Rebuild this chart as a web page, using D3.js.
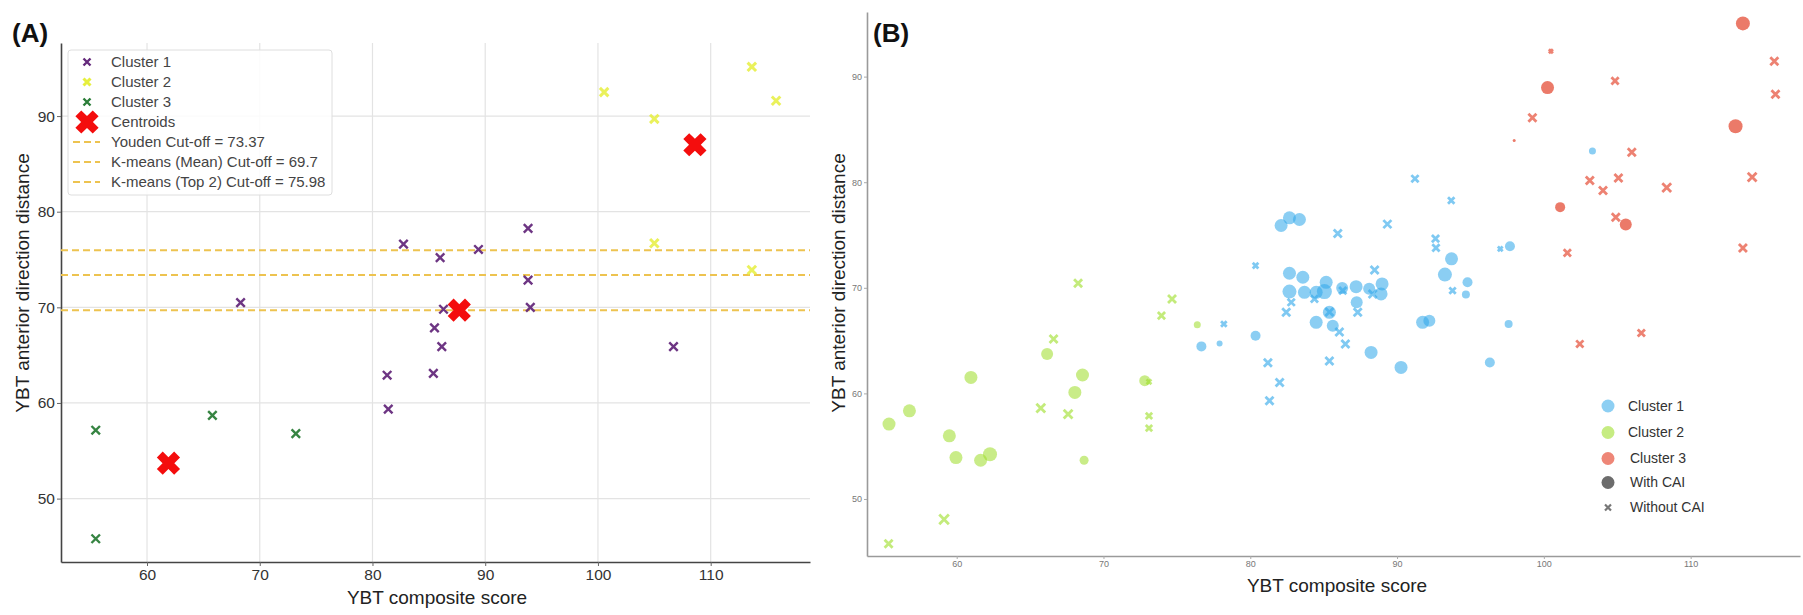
<!DOCTYPE html>
<html><head><meta charset="utf-8">
<script src="https://cdn.jsdelivr.net/npm/d3@7"></script>
<style>body{margin:0;background:#fff}svg{display:block}</style>
</head><body><svg id="c" width="1803" height="615"></svg>
<script>
// ---------- Panel A data ----------
const aXTicks = [60, 70, 80, 90, 100, 110];
const aYTicks = [50, 60, 70, 80, 90];
const aCluster1X = [82.75, 86.0, 68.3, 89.4, 93.8, 93.8, 94.0, 86.3, 85.5, 86.15, 85.4, 106.7, 81.3, 81.4];
const aCluster1Y = [76.6, 75.2, 70.5, 76.05, 78.25, 72.85, 70.0, 69.8, 67.85, 65.9, 63.1, 65.9, 62.9, 59.35];
const aCluster2X = [100.55, 105.0, 113.65, 115.8, 105.0, 113.65];
const aCluster2Y = [92.5, 89.7, 95.15, 91.6, 76.7, 73.9];
const aCluster3X = [55.45, 65.8, 73.2, 55.45];
const aCluster3Y = [57.15, 58.7, 56.8, 45.8];
const centroidX = [61.9, 87.7, 108.6];
const centroidY = [53.7, 69.7, 87.0];
const cutoffNames = ["Youden Cut-off = 73.37", "K-means (Mean) Cut-off = 69.7", "K-means (Top 2) Cut-off = 75.98"];
const cutoffValues = [73.37, 69.7, 75.98];
const aLegendNames = ["Cluster 1", "Cluster 2", "Cluster 3", "Centroids"];

// ---------- Panel B data: [x, y, marker-size value] ----------
const bXTicks = [60, 70, 80, 90, 100, 110];
const bYTicks = [50, 60, 70, 80, 90];
const bC1With = [[76.67,64.45,5],[77.91,64.73,3],[80.36,65.46,5],[82.1,75.9,6.5],[82.67,76.63,6.5],[83.35,76.47,6.5],[82.67,71.38,6.5],[83.58,71.0,6.5],[82.67,69.64,7],[83.69,69.57,6.5],[84.49,69.57,6.5],[85.05,69.64,7.5],[85.17,70.52,6.5],[86.26,69.99,6],[87.21,70.11,6.5],[88.1,69.9,6],[88.98,70.37,6.5],[88.91,69.42,6.5],[87.25,68.63,6],[85.39,67.68,6.5],[84.49,66.73,6.5],[85.62,66.41,6],[88.23,63.88,6.5],[90.27,62.46,6.5],[91.74,66.73,6.5],[92.2,66.89,6],[93.26,71.25,7],[93.71,72.74,6.5],[94.8,70.52,5],[94.69,69.36,4],[97.69,73.94,5],[97.6,66.57,4],[96.32,62.93,5],[103.31,82.95,3.5]];
const bC1Without = [[78.2,66.57,3.5],[80.36,72.1,3.5],[81.2,62.9,5],[82.0,61.03,5],[81.31,59.3,5],[82.45,67.68,5],[82.79,68.63,4.5],[84.37,68.95,4.5],[85.39,63.06,5],[85.39,67.7,5],[85.96,75.14,5],[86.3,69.73,4.5],[86.07,65.82,5],[86.48,64.68,5],[87.32,67.68,5],[88.34,69.42,5],[88.47,71.69,5],[89.34,76.03,5],[91.22,80.33,4.5],[92.62,74.66,4.5],[92.65,73.78,4.5],[93.69,78.27,4],[93.78,69.73,4],[97.03,73.69,3]];
const bC2With = [[55.39,57.09,6.5],[56.78,58.35,6.5],[59.5,55.98,6.5],[59.95,53.92,6.5],[60.97,61.51,6.5],[61.63,53.67,6.5],[62.27,54.24,7],[66.16,63.73,6],[68.05,60.09,6.5],[68.57,61.74,6.5],[68.68,53.67,4.5],[72.81,61.2,5.5],[76.39,66.51,3.5]];
const bC2Without = [[55.36,45.76,5],[59.14,48.07,6],[65.73,58.6,5.5],[66.6,65.15,5],[67.59,58.04,5.5],[68.27,70.43,5],[73.1,61.1,3],[73.1,57.87,4],[73.1,56.71,4],[73.95,67.36,4.5],[74.67,68.95,5]];
const bC3With = [[113.56,95.04,7],[113.06,85.3,7],[100.25,88.96,6.5],[97.98,83.94,1.5],[101.11,77.64,5],[105.58,76.0,6]];
const bC3Without = [[115.7,91.46,5],[115.78,88.33,5],[100.48,92.4,2.5],[104.85,89.6,4.5],[99.22,86.1,5],[105.99,82.83,5],[103.13,80.17,5],[104.03,79.22,5],[105.08,80.39,5],[108.37,79.48,5.5],[114.19,80.49,5.5],[104.9,76.69,5],[101.6,73.31,4.5],[113.56,73.78,5],[106.64,65.72,4.5],[102.45,64.68,4.5]];
const bLegendNames = ["Cluster 1", "Cluster 2", "Cluster 3", "With CAI", "Without CAI"];

// ---------- drawing ----------
const svg = d3.select("#c");
const FONT = "'Liberation Sans', Arial, Helvetica, sans-serif";

const xSym = {draw(ctx, size){ const r = Math.sqrt(size)/2; ctx.moveTo(-r,-r); ctx.lineTo(r,r); ctx.moveTo(r,-r); ctx.lineTo(-r,r);} };
const bigX = {draw(ctx, size){
  const L = Math.sqrt(size)/2, T = L*0.34, c = Math.SQRT1_2;
  const pts = [[-T,L],[T,L],[T,T],[L,T],[L,-T],[T,-T],[T,-L],[-T,-L],[-T,-T],[-L,-T],[-L,T],[-T,T]]
    .map(([x,y]) => [(x - y)*c, (x + y)*c]);
  ctx.moveTo(pts[0][0], pts[0][1]); pts.slice(1).forEach(p => ctx.lineTo(p[0], p[1])); ctx.closePath();
}};

// ===== Panel A =====
const A = {l:61, r:810, t:43, b:562};
const ax = d3.scaleLinear().domain([52.37, 118.81]).range([A.l, A.r]);
const ay = d3.scaleLinear().domain([43.37, 97.64]).range([A.b, A.t]);
const gA = svg.append("g");
gA.selectAll("line.gx").data(aXTicks).join("line").attr("x1", d=>ax(d)).attr("x2", d=>ax(d))
  .attr("y1", A.t).attr("y2", A.b).attr("stroke", "#e3e3e3").attr("stroke-width", 1.2);
gA.selectAll("line.gy").data(aYTicks).join("line").attr("y1", d=>ay(d)).attr("y2", d=>ay(d))
  .attr("x1", A.l).attr("x2", A.r).attr("stroke", "#e3e3e3").attr("stroke-width", 1.2);

const axA = gA.append("g").attr("transform", `translate(0,${A.b})`)
  .call(d3.axisBottom(ax).tickValues(aXTicks).tickSize(4).tickPadding(3).tickSizeOuter(0));
const ayA = gA.append("g").attr("transform", `translate(${A.l},0)`)
  .call(d3.axisLeft(ay).tickValues(aYTicks).tickSize(4).tickPadding(2).tickSizeOuter(0));
[axA, ayA].forEach(g => {
  g.select(".domain").attr("stroke", "#444").attr("stroke-width", 1.6);
  g.selectAll(".tick line").attr("stroke", "#666");
  g.selectAll("text").attr("font-family", FONT).attr("font-size", 15.5).attr("fill", "#333");
});

const cutColor = "#edc350";
gA.selectAll("line.cut").data(cutoffValues).join("line")
  .attr("x1", A.l).attr("x2", A.r).attr("y1", d=>ay(d)).attr("y2", d=>ay(d))
  .attr("stroke", cutColor).attr("stroke-width", 2).attr("stroke-dasharray", "7,4");

const aColors = ["#652a7c", "#e6ef3e", "#2b7d38"];
const aSets = [[aCluster1X, aCluster1Y], [aCluster2X, aCluster2Y], [aCluster3X, aCluster3Y]];
aSets.forEach(([xs, ys], i) => {
  gA.append("g").selectAll("path").data(xs.map((x, j) => [x, ys[j]])).join("path")
    .attr("transform", d => `translate(${ax(d[0])},${ay(d[1])})`)
    .attr("d", d3.symbol().type(xSym).size(72))
    .attr("fill", "none").attr("stroke", aColors[i]).attr("stroke-width", i === 1 ? 3 : 2.4)
    .attr("stroke-opacity", i === 1 ? 0.85 : 0.95);
});
gA.append("g").selectAll("path").data(centroidX.map((x, j) => [x, centroidY[j]])).join("path")
  .attr("transform", d => `translate(${ax(d[0])},${ay(d[1])})`)
  .attr("d", d3.symbol().type(bigX).size(600)).attr("fill", "#f40d0d");

// legend A
const lg = gA.append("g");
lg.append("rect").attr("x", 68).attr("y", 50).attr("width", 264).attr("height", 145).attr("rx", 3)
  .attr("fill", "#fff").attr("fill-opacity", 0.85).attr("stroke", "#dedede");
const rowY = i => 62 + i*20;
aLegendNames.forEach((n, i) => {
  const g = lg.append("g").attr("transform", `translate(87,${rowY(i)})`);
  if (i < 3) g.append("path").attr("d", d3.symbol().type(xSym).size(49)).attr("fill", "none")
    .attr("stroke", aColors[i]).attr("stroke-width", i === 1 ? 3 : 2.4);
  else g.append("path").attr("d", d3.symbol().type(bigX).size(600)).attr("fill", "#f40d0d");
  lg.append("text").attr("x", 111).attr("y", rowY(i)).attr("dy", "0.35em").text(n)
    .attr("font-family", FONT).attr("font-size", 15).attr("fill", "#444");
});
cutoffNames.forEach((n, k) => {
  const i = k + 4;
  lg.append("line").attr("x1", 73).attr("x2", 100).attr("y1", rowY(i)).attr("y2", rowY(i))
    .attr("stroke", cutColor).attr("stroke-width", 2).attr("stroke-dasharray", "7,4");
  lg.append("text").attr("x", 111).attr("y", rowY(i)).attr("dy", "0.35em").text(n)
    .attr("font-family", FONT).attr("font-size", 15).attr("fill", "#444");
});

gA.append("text").attr("x", 437).attr("y", 604).attr("text-anchor", "middle").text("YBT composite score")
  .attr("font-family", FONT).attr("font-size", 19).attr("fill", "#222");
gA.append("text").attr("transform", "translate(29,283) rotate(-90)").attr("text-anchor", "middle")
  .text("YBT anterior direction distance").attr("font-family", FONT).attr("font-size", 19).attr("fill", "#222");
gA.append("text").attr("x", 12).attr("y", 42).text("(A)").attr("font-family", FONT)
  .attr("font-size", 26).attr("font-weight", "bold").attr("fill", "#111");

// ===== Panel B =====
const B = {l:867, r:1800, t:12, b:556};
const bx = d3.scaleLinear().domain([53.89, 117.45]).range([B.l, B.r]);
const by = d3.scaleLinear().domain([44.6, 96.12]).range([B.b, B.t]);
const sz = d3.scaleLinear().domain([0, 8]).range([0, 8]);
const gB = svg.append("g");
const axB = gB.append("g").attr("transform", `translate(0,${B.b})`)
  .call(d3.axisBottom(bx).tickValues(bXTicks).tickSize(3).tickPadding(2).tickSizeOuter(0));
const ayB = gB.append("g").attr("transform", `translate(${B.l},0)`)
  .call(d3.axisLeft(by).tickValues(bYTicks).tickSize(3).tickPadding(2).tickSizeOuter(0));
[axB, ayB].forEach(g => {
  g.select(".domain").attr("stroke", "#9a9a9a").attr("stroke-width", 1.6);
  g.selectAll(".tick line").attr("stroke", "#aaa");
  g.selectAll("text").attr("font-family", FONT).attr("font-size", 9).attr("fill", "#777");
});

const bColors = ["#30a8ea", "#9ede2a", "#e8634f"];
const withSets = [bC1With, bC2With, bC3With];
const withoutSets = [bC1Without, bC2Without, bC3Without];
withSets.forEach((arr, i) => {
  gB.append("g").selectAll("circle").data(arr).join("circle")
    .attr("cx", d => bx(d[0])).attr("cy", d => by(d[1])).attr("r", d => sz(d[2]))
    .attr("fill", bColors[i]).attr("fill-opacity", i === 2 ? 0.85 : 0.56);
});
withoutSets.forEach((arr, i) => {
  gB.append("g").selectAll("path").data(arr).join("path")
    .attr("transform", d => `translate(${bx(d[0])},${by(d[1])})`)
    .attr("d", d => d3.symbol().type(xSym).size(Math.pow(2*sz(d[2])*0.8, 2))())
    .attr("fill", "none").attr("stroke", bColors[i]).attr("stroke-width", 2.8)
    .attr("stroke-opacity", i === 2 ? 0.8 : 0.62);
});

// legend B
const bRows = [406, 432.5, 458.5, 482.5, 507.5];
const bLegColors = ["#8dcff3", "#c6ec82", "#ee8677", "#6c6c6c"];
bLegendNames.forEach((n, i) => {
  if (i < 4) gB.append("circle").attr("cx", 1608).attr("cy", bRows[i]).attr("r", 6.5).attr("fill", bLegColors[i]);
  else gB.append("path").attr("transform", `translate(1608,${bRows[i]})`)
    .attr("d", d3.symbol().type(xSym).size(36)).attr("fill", "none").attr("stroke", "#777").attr("stroke-width", 2.2);
  gB.append("text").attr("x", i < 2 ? 1628 : 1630).attr("y", bRows[i]).attr("dy", "0.35em").text(n)
    .attr("font-family", FONT).attr("font-size", 14).attr("fill", "#333");
});

gB.append("text").attr("x", 1337).attr("y", 592).attr("text-anchor", "middle").text("YBT composite score")
  .attr("font-family", FONT).attr("font-size", 19).attr("fill", "#222");
gB.append("text").attr("transform", "translate(845,283) rotate(-90)").attr("text-anchor", "middle")
  .text("YBT anterior direction distance").attr("font-family", FONT).attr("font-size", 19).attr("fill", "#222");
gB.append("text").attr("x", 873).attr("y", 42).text("(B)").attr("font-family", FONT)
  .attr("font-size", 26).attr("font-weight", "bold").attr("fill", "#111");
</script></body></html>
